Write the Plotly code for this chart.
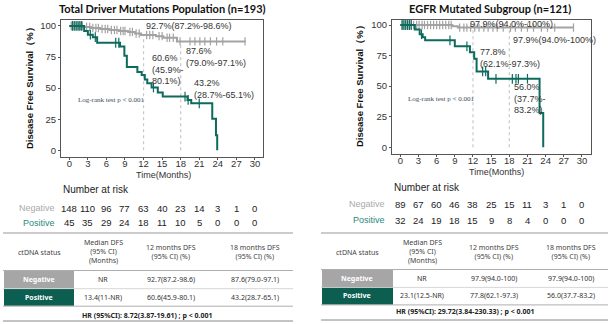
import numpy as np
import plotly.graph_objects as go

W, H = 612, 324
TEAL = "#0d6b5d"
GRAY = "#a3a3a3"

# ---------------- data ----------------
# Total driver mutations population
L_neg_t = [0, 2.3, 3.5, 5.0, 6.5, 8.0, 9.5, 10.6, 11.6, 14.0, 15.2, 17.4, 28.5]
L_neg_s = [100, 99.2, 98.4, 97.6, 96.8, 96.0, 95.2, 94.0, 92.7, 91.8, 90.5, 87.6, 87.6]
L_neg_c = [0.3, 0.6, 0.9, 1.2, 1.5, 1.8, 2.1, 2.8, 3.3, 3.8, 4.3, 4.7, 5.3, 5.8, 6.2, 6.8, 7.3,
           7.7, 8.3, 8.7, 9.0, 9.8, 10.2, 10.8, 11.3, 12.5, 13.0, 13.5, 14.5, 15.0, 15.8, 16.2,
           16.8, 17.9, 19.5, 20.3, 21.1, 21.9, 22.8, 23.8, 24.8, 28.4]
L_pos_t = [0, 2.4, 3.0, 3.8, 4.5, 8.2, 8.9, 9.3, 11.0, 11.7, 12.2, 12.6, 13.3, 14.3, 15.1,
           19.1, 19.7, 23.1, 23.7, 23.9]
L_pos_s = [100, 96, 93, 91, 86.5, 83.5, 76, 67, 63, 60.6, 57, 54, 50.5, 46.5, 43.2,
           40.5, 37.8, 25.3, 12, 0]
L_pos_c = [0.5, 0.8, 1.1, 1.4, 1.7, 2.0, 3.4, 4.2, 7.5, 8.0, 13.6, 18.7, 19.2, 21.0]

# EGFR mutated subgroup
R_neg_t = [0, 8.6, 9.5, 28.6]
R_neg_s = [100, 98.9, 97.9, 97.9]
R_neg_c = [0.3, 0.6, 0.9, 1.2, 1.5, 1.8, 2.2, 2.7, 3.1, 3.6, 4.0, 4.5, 5.0, 5.5, 6.0, 6.5, 7.0,
           7.5, 8.0, 8.4, 9.8, 10.5, 11.0, 11.6, 12.3, 13.0, 13.8, 14.5, 15.3, 16.0, 17.0, 18.2,
           19.0, 20.0, 21.0, 22.0, 23.3, 24.3, 25.5, 28.6]
R_pos_t = [0, 2.4, 3.2, 3.7, 4.1, 9.0, 11.5, 12.2, 12.6, 14.5, 23.0, 23.6]
R_pos_s = [100, 96.4, 92.5, 90, 87.5, 82.6, 77.8, 72.5, 62, 56, 28, 0]
R_pos_c = [0.3, 0.6, 0.9, 1.2, 1.5, 1.8, 3.5, 8.2, 11.0, 13.6, 14.1, 15.8, 18.5, 19.1, 19.5, 21.0]

x_ticks = [0, 3, 6, 9, 12, 15, 18, 21, 24, 27, 30]
y_ticks = [0, 25, 50, 75, 100]

L_risk_neg = [148, 110, 96, 77, 63, 40, 23, 14, 3, 1, 0]
L_risk_pos = [45, 35, 29, 24, 18, 11, 10, 5, 0, 0, 0]
R_risk_neg = [89, 67, 60, 46, 38, 25, 15, 11, 3, 1, 0]
R_risk_pos = [32, 24, 19, 18, 15, 9, 8, 4, 0, 0, 0]

titles = ["Total Driver Mutations Population (n=193)", "EGFR Mutated Subgroup (n=121)"]

table_header = ["ctDNA status", "Median DFS<br>(95% CI)<br>(Months)",
                "12 months DFS<br>(95% CI) (%)", "18 months DFS<br>(95% CI) (%)"]
L_table_neg = ["NR", "92.7(87.2-98.6)", "87.6(79.0-97.1)"]
L_table_pos = ["13.4(11-NR)", "60.6(45.9-80.1)", "43.2(28.7-65.1)"]
L_hr = "HR (95%CI): 8.72(3.87-19.61) ; p < 0.001"
R_table_neg = ["NR", "97.9(94.0-100)", "97.9(94.0-100)"]
R_table_pos = ["23.1(12.5-NR)", "77.8(62.1-97.3)", "56.0(37.7-83.2)"]
R_hr = "HR (95%CI): 29.72(3.84-230.33) ; p < 0.001"


def px(x):
    return x / W


def py(y):
    return 1 - y / H


def step_val(t, s, c):
    t = np.asarray(t); s = np.asarray(s)
    idx = np.searchsorted(t, np.asarray(c), side="right") - 1
    return s[idx]


fig = go.Figure()
ann = []
shapes = []

panels = [
    dict(xa="x", ya="y", neg=(L_neg_t, L_neg_s, L_neg_c), pos=(L_pos_t, L_pos_s, L_pos_c)),
    dict(xa="x2", ya="y2", neg=(R_neg_t, R_neg_s, R_neg_c), pos=(R_pos_t, R_pos_s, R_pos_c)),
]

for p in panels:
    nt, ns, nc = p["neg"]
    pt, pss, pc = p["pos"]
    for tm in (12, 18):
        top = float(step_val(nt, ns, [tm])[0])
        fig.add_trace(go.Scatter(x=[tm, tm], y=[0, top], mode="lines", xaxis=p["xa"], yaxis=p["ya"],
                                 line=dict(color="#c8c8c8", width=1.2, dash="dot"),
                                 showlegend=False, hoverinfo="skip"))
    fig.add_trace(go.Scatter(x=nt, y=ns, mode="lines", line_shape="hv", xaxis=p["xa"], yaxis=p["ya"],
                             line=dict(color=GRAY, width=2), showlegend=False))
    fig.add_trace(go.Scatter(x=nc, y=step_val(nt, ns, nc), mode="markers", xaxis=p["xa"], yaxis=p["ya"],
                             marker=dict(symbol="line-ns-open", size=6, color=GRAY,
                                         line=dict(color=GRAY, width=1.2)),
                             showlegend=False))
    fig.add_trace(go.Scatter(x=pt, y=pss, mode="lines", line_shape="hv", xaxis=p["xa"], yaxis=p["ya"],
                             line=dict(color=TEAL, width=2), showlegend=False))
    fig.add_trace(go.Scatter(x=pc, y=step_val(pt, pss, pc), mode="markers", xaxis=p["xa"], yaxis=p["ya"],
                             marker=dict(symbol="line-ns-open", size=7, color=TEAL,
                                         line=dict(color=TEAL, width=1.2)),
                             showlegend=False))

axis_common = dict(showline=True, linecolor="#555", linewidth=1, mirror=True, ticks="outside",
                   ticklen=2, tickcolor="#555", showgrid=False, zeroline=False,
                   tickfont=dict(family="Liberation Sans", size=9.5, color="#333"))

fig.update_layout(
    width=W, height=H, margin=dict(l=0, r=0, t=0, b=0),
    paper_bgcolor="white", plot_bgcolor="white",
    xaxis=dict(domain=[px(61), px(263)], range=[-1.34, 31.3], tickvals=x_ticks, anchor="y",
               ticklabelstandoff=-4, **axis_common),
    yaxis=dict(domain=[py(157), py(20)], range=[-5.4, 104.8], tickvals=y_ticks, anchor="x", **axis_common),
    xaxis2=dict(domain=[px(392), px(591)], range=[-1.37, 31.49], tickvals=x_ticks, anchor="y2",
                ticklabelstandoff=-4, **axis_common),
    yaxis2=dict(domain=[py(154), py(20)], range=[-5.5, 104.1], tickvals=y_ticks, anchor="x2", **axis_common),
)


def A(x, y, text, size=8, color="#333", xanchor="center", xref="paper", bold=False,
      family="Liberation Sans", angle=0, align="center"):
    if bold:
        text = "<b>" + text + "</b>"
    ann.append(dict(x=x if xref != "paper" else px(x), y=py(y), xref=xref, yref="paper", text=text,
                    showarrow=False, xanchor=xanchor, yanchor="middle", align=align, textangle=angle,
                    font=dict(family=family, size=size, color=color)))


# titles
A(162, 8, titles[0], size=11, color="#111", bold=True, family="Lato")
A(490, 8, titles[1], size=11, color="#111", bold=True, family="Lato")
# y axis labels
A(29, 86, "Disease Free Survival（%）", size=9.5, color="#111", bold=True, angle=-90)
A(359, 84, "Disease Free Survival（%）", size=9.5, color="#111", bold=True, angle=-90)
# x axis labels
A(163, 175, "Time(Months)", size=9)
A(496, 172, "Time(Months)", size=9)

# in-plot annotations (left)
A(12, 26, "92.7%(87.2%-98.6%)", size=9, xanchor="left", xref="x", align="left")
A(13.0, 69, "60.6%<br>(45.9%-<br>80.1%)", size=9, xanchor="left", xref="x", align="left")
A(18.6, 57, "87.6%<br>(79.0%-97.1%)", size=9, xanchor="left", xref="x", align="left")
A(19.8, 89, "43.2%<br>(28.7%-65.1%)", size=9, xanchor="left", xref="x", align="left")
A(1.1, 100, "Log-rank test p < 0.001", size=7, color="#3c4a5a", xanchor="left", xref="x", family="Liberation Serif")
# in-plot annotations (right)
A(11.2, 24, "97.9%(94.0%-100%)", size=9, xanchor="left", xref="x2", align="left")
A(18.2, 40, "97.9%(94.0%-100%)", size=9, xanchor="left", xref="x2", align="left")
A(12.9, 58, "77.8%<br>(62.1%-97.3%)", size=9, xanchor="left", xref="x2", align="left")
A(18.5, 98.5, "56.0%<br>(37.7%-<br>83.2%)", size=9, xanchor="left", xref="x2", align="left")
A(1.0, 99, "Log-rank test p < 0.001", size=7, color="#3c4a5a", xanchor="left", xref="x2", family="Liberation Serif")

# number at risk
A(61, 189, "Number at risk", size=10, xanchor="left", color="#222")
A(57, 208, "Negative", size=9, xanchor="right", color="#aaaaaa")
A(57, 223, "Positive", size=9, xanchor="right", color="#2a8a7c")
for t, v in zip(x_ticks, L_risk_neg):
    A(t, 208, str(v), size=9.5, xref="x", color="#222")
for t, v in zip(x_ticks, L_risk_pos):
    A(t, 223, str(v), size=9.5, xref="x", color="#222")
A(392, 187, "Number at risk", size=10, xanchor="left", color="#222")
A(387, 204, "Negative", size=9, xanchor="right", color="#aaaaaa")
A(387, 220, "Positive", size=9, xanchor="right", color="#2a8a7c")
for t, v in zip(x_ticks, R_risk_neg):
    A(t, 204, str(v), size=9.5, xref="x2", color="#222")
for t, v in zip(x_ticks, R_risk_pos):
    A(t, 220, str(v), size=9.5, xref="x2", color="#222")


def hline(x0, x1, y, color="#888", w=1):
    shapes.append(dict(type="line", xref="paper", yref="paper", x0=px(x0), x1=px(x1), y0=py(y), y1=py(y),
                       line=dict(color=color, width=w)))


def rect(x0, x1, y0, y1, fill):
    shapes.append(dict(type="rect", xref="paper", yref="paper", x0=px(x0), x1=px(x1), y0=py(y1), y1=py(y0),
                       fillcolor=fill, line=dict(width=0)))


def table(x0, x1, cols, box_x1, rows_y, neg, pos, hr, hr_x, hr_y, bottom):
    TF = "Noto Sans"
    hline(x0, x1, 233, "#999", 1)
    A(cols[0], 252, table_header[0], size=7, color="#444", family=TF)
    A(cols[1], 251, table_header[1], size=7, color="#444", family=TF)
    A(cols[2], 252, table_header[2], size=7, color="#444", family=TF)
    A(cols[3], 252, table_header[3], size=7, color="#444", family=TF)
    hline(x0, x1, rows_y[0], "#999", 0.8)
    rect(x0 + 1, box_x1, rows_y[0] + 0.5, rows_y[1], "#a6a6a6")
    rect(x0 + 1, box_x1, rows_y[1] + 0.8, rows_y[2], "#0b5e50")
    hline(x0, x1, rows_y[1] + 0.4, "#bbb", 0.6)
    hline(x0, x1, rows_y[2] + 0.4, "#999", 0.8)
    ym1 = (rows_y[0] + rows_y[1]) / 2
    ym2 = (rows_y[1] + rows_y[2]) / 2
    A(cols[0], ym1, "Negative", size=7, color="white", bold=True, family=TF)
    A(cols[0], ym2, "Positive", size=7, color="white", bold=True, family=TF)
    for c, v in zip(cols[1:], neg):
        A(c, ym1, v, size=7, color="#333", family=TF)
    for c, v in zip(cols[1:], pos):
        A(c, ym2, v, size=7, color="#333", family=TF)
    A(hr_x, hr_y, hr, size=7, color="#222", bold=True, family=TF)
    hline(x0, x1, bottom, "#888", 1)


table(3, 293, [39, 103, 171, 255], 74, [270.5, 288.3, 305.8], L_table_neg, L_table_pos, L_hr, 147, 315, 321)
table(321, 608, [357, 422, 494, 571], 393, [269.5, 287, 304.5], R_table_neg, R_table_pos, R_hr, 465, 311.5, 320)

fig.update_layout(annotations=ann, shapes=shapes)
fig.write_html("out.html")
